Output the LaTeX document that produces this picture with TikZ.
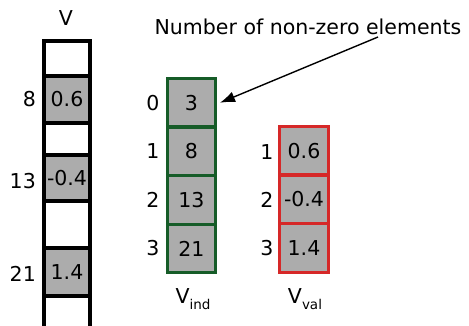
\documentclass[tikz,border=0pt]{standalone}
\usepackage{fontspec}
\setmainfont{DejaVu Sans}
\usetikzlibrary{arrows.meta}
\definecolor{cellgray}{RGB}{172,172,172}
\definecolor{indgreen}{RGB}{22,92,40}
\definecolor{valred}{RGB}{214,40,40}
\begin{document}
\begin{tikzpicture}[x=1pt,y=-1pt,
  every node/.style={font=\fontsize{20.5}{22}\selectfont, inner sep=0pt},
  vcell/.style={draw=black, line width=4pt, minimum width=46pt, anchor=center},
  gcell/.style={draw=indgreen, fill=cellgray, line width=3pt, minimum width=48pt, minimum height=48.5pt},
  rcell/.style={draw=valred, fill=cellgray, line width=3pt, minimum width=49pt, minimum height=48.5pt},
  lbl/.style={anchor=east},
  subs/.style={font=\fontsize{13.5}{14}\selectfont}]
\useasboundingbox (0,0) rectangle (469,326);
% V column
\node[vcell, minimum height=35pt] (v1) at (67,58.5) {};
\node[vcell, fill=cellgray, minimum height=47pt] (v2) at (67,99.5) {0.6};
\node[vcell, minimum height=32pt] (v3) at (67,139) {};
\node[vcell, fill=cellgray, minimum height=46pt] (v4) at (67,178) {-0.4};
\node[vcell, minimum height=47pt] (v5) at (67,224.5) {};
\node[vcell, fill=cellgray, minimum height=48pt] (v6) at (67,272) {1.4};
\node[vcell, minimum height=49pt] (v7) at (67,320.5) {};
\node (vt) at (66,18) {V};
\node[lbl] (l8) at (36,99.5) {8};
\node[lbl] (l13) at (36,181) {13};
\node[lbl] (l21) at (36,274) {21};
% V_ind column
\node[gcell] (g0) at (191.5,102.75) {3};
\node[gcell] (g1) at (191.5,151.5) {8};
\node[gcell] (g2) at (191.5,200.25) {13};
\node[gcell] (g3) at (191.5,248.5) {21};
\node (gl0) at (153,103) {0};
\node (gl1) at (153,151.5) {1};
\node (gl2) at (153,200) {2};
\node (gl3) at (153,248) {3};
\node (gt) at (193,299) {V\raisebox{-0.55ex}{\fontsize{13.5}{14}\selectfont ind}};
% V_val column
\node[rcell] (r1) at (304,150.75) {0.6};
\node[rcell] (r2) at (304,199.5) {-0.4};
\node[rcell] (r3) at (304,247.75) {1.4};
\node (rl1) at (267,152) {1};
\node (rl2) at (267,200) {2};
\node (rl3) at (267,248) {3};
\node (rt) at (305,299) {V\raisebox{-0.55ex}{\fontsize{13.5}{14}\selectfont val}};
% annotation
\node (title) at (308,27) {Number of non-zero elements};
\coordinate (astart) at (378,37);
\draw[line width=1.4pt, -{Latex[length=15pt,width=11pt]}] (astart) -- ([xshift=3pt]g0.east);
\end{tikzpicture}
\end{document}
